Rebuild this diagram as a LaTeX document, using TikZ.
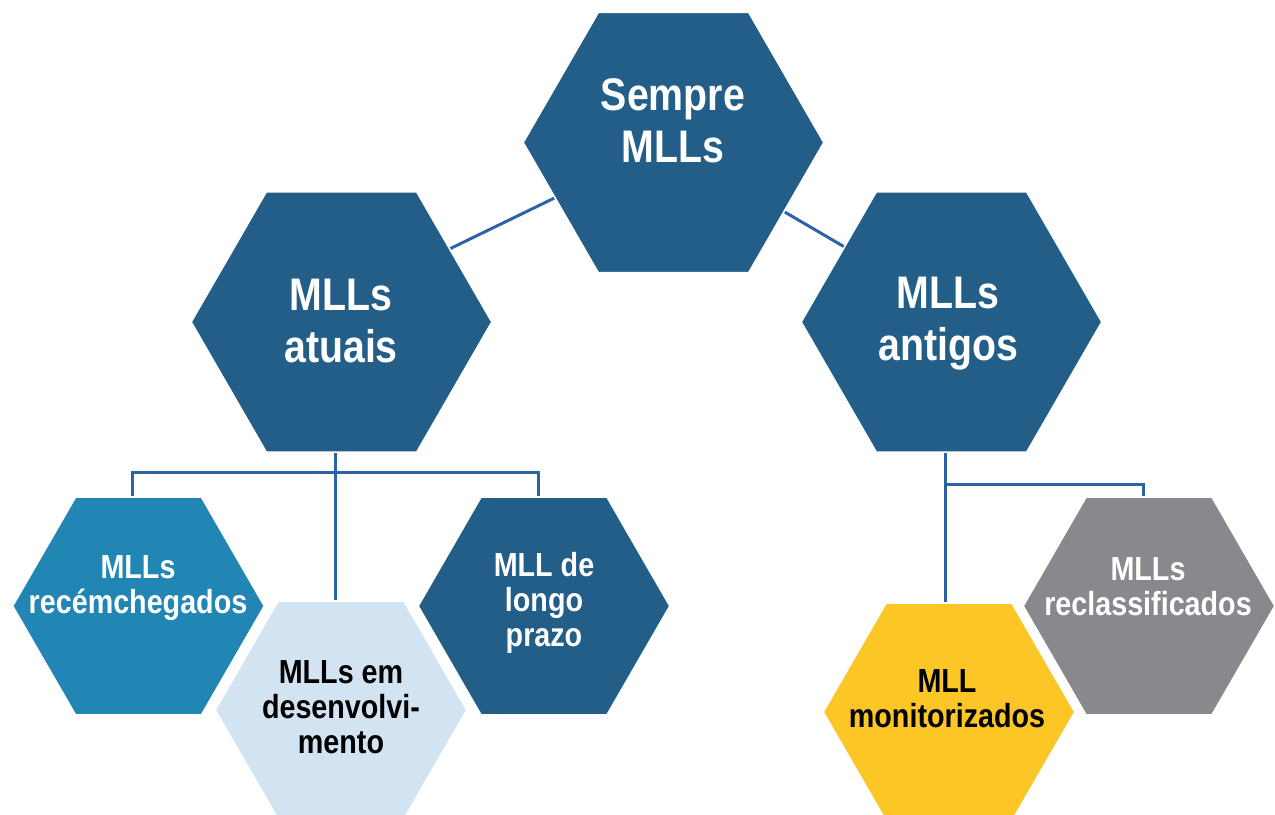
\documentclass[tikz,border=0pt]{standalone}
\usepackage{fontspec}
\usepackage{tikz}
\usetikzlibrary{shapes.geometric}
\newfontfamily\hexfont{Liberation Sans}[FakeStretch=0.86]

\definecolor{hexdark}{RGB}{34,94,136}
\definecolor{hexmid}{RGB}{34,134,181}
\definecolor{hexlight}{RGB}{210,228,241}
\definecolor{hexyellow}{RGB}{252,198,38}
\definecolor{hexgray}{RGB}{136,137,141}
\definecolor{linkblue}{RGB}{43,99,166}

\begin{document}
\begin{tikzpicture}[x=0.02cm, y=-0.02cm,
    bighex/.style={regular polygon, regular polygon sides=6, minimum size=6.06cm, inner sep=0pt, outer sep=0pt, draw=white, line width=2pt},
    smallhex/.style={regular polygon, regular polygon sides=6, minimum size=5.1cm, inner sep=0pt, outer sep=0pt, draw=white, line width=2.5pt},
    bigtext/.style={align=center, inner sep=0pt, text=white, font=\hexfont\bfseries\fontsize{26}{29.6}\selectfont},
    smalltext/.style={align=center, inner sep=0pt, text=white, font=\hexfont\bfseries\fontsize{19}{19.8}\selectfont},
    link/.style={draw=linkblue, line width=1.7pt}
]
\useasboundingbox (0,0) rectangle (1275,815);

% Top level
\node[bighex, fill=hexdark] (sempre) at (673.5,142.5) {};
\node[bigtext] (sempretxt) at (673,121) {Sempre\\MLLs};

% Second level
\node[bighex, fill=hexdark] (atuais) at (341.5,322) {};
\node[bigtext] (atuaistxt) at (341,321) {MLLs\\atuais};
\node[bighex, fill=hexdark] (antigos) at (951.5,322) {};
\node[bigtext] (antigostxt) at (948,324) {MLLs\\antigos};

% Third level, under MLLs atuais
\node[smallhex, fill=hexmid] (recem) at (138.5,606) {};
\node[smalltext] (recemtxt) at (138,588) {MLLs\\recémchegados};
\node[smallhex, fill=hexdark] (longo) at (544,606) {};
\node[smalltext] (longotxt) at (544,603) {MLL de\\longo\\prazo};
\node[smallhex, fill=hexlight] (desenv) at (341,710) {};
\node[smalltext, text=black] (desenvtxt) at (341,707) {MLLs em\\desenvolvi-\\mento};

% Third level, under MLLs antigos
\node[smallhex, fill=hexgray] (reclass) at (1149,606) {};
\node[smalltext] (reclasstxt) at (1148,587) {MLLs\\reclassificados};
\node[smallhex, fill=hexyellow] (monitor) at (949,712) {};
\node[smalltext, text=black] (monitortxt) at (947,699) {MLL\\monitorizados};

% Connectors between the hexagons
\draw[link] (sempre.205.3) -- (atuais.34.9);
\draw[link] (sempre.328) -- (antigos.145.5);
% tree under MLLs atuais
\coordinate (leftstem) at ([xshift=-0.12cm]atuais.south);
\coordinate (leftbar) at ([yshift=-0.38cm]leftstem);
\draw[link] (leftstem) -- (leftstem |- desenv.north);
\draw[link] ([xshift=-0.12cm]recem.north) |- (leftbar) -| ([xshift=-0.12cm]longo.north);
% tree under MLLs antigos
\coordinate (rightstem) at ([xshift=-0.12cm]antigos.south);
\coordinate (rightbar) at ([yshift=-0.62cm]rightstem);
\draw[link] (rightstem) -- (rightstem |- monitor.north);
\draw[link] (rightbar) -| ([xshift=-0.12cm]reclass.north);
\end{tikzpicture}
\end{document}
